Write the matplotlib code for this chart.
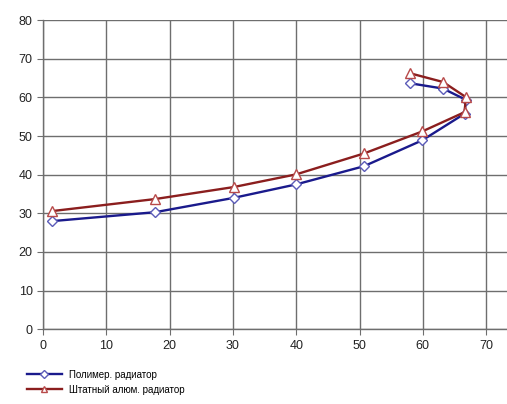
import matplotlib
matplotlib.use('Agg')
import matplotlib.pyplot as pyplot

# series
polymer_x = [1.5, 17.7, 30.1, 40.0, 50.7, 59.9, 66.6, 66.8, 63.2, 57.9]
polymer_y = [28.0, 30.3, 34.0, 37.5, 42.2, 48.9, 55.8, 59.4, 62.3, 63.7]
stock_x = [1.5, 17.7, 30.1, 40.0, 50.7, 59.9, 66.6, 66.8, 63.2, 57.9]
stock_y = [30.6, 33.7, 36.8, 40.1, 45.5, 51.2, 56.2, 60.1, 64.0, 66.3]

labels = ['Полимер. радиатор', 'Штатный алюм. радиатор']
x_ticks = [0, 10, 20, 30, 40, 50, 60, 70]
y_ticks = [0, 10, 20, 30, 40, 50, 60, 70, 80]

pyplot.rcParams['font.family'] = ['Liberation Sans', 'DejaVu Sans']

fig = pyplot.figure(figsize=(5.07, 4.04), dpi=100)
ax = fig.add_axes([0.0848, 0.185, 0.9152, 0.765])

ax.plot(polymer_x, polymer_y, '-', color='#1a1a8c', lw=1.7, marker='D',
        markersize=5, markerfacecolor='white', markeredgecolor='#5b5bb8',
        markeredgewidth=1.0, label=labels[0], zorder=3)
ax.plot(stock_x, stock_y, '-', color='#8b1e1e', lw=1.7, marker='^',
        markersize=6.5, markerfacecolor='white', markeredgecolor='#b84a4a',
        markeredgewidth=1.0, label=labels[1], zorder=4)

ax.set_xlim(0, 73.3)
ax.set_ylim(0, 80)
ax.set_xticks(x_ticks)
ax.set_yticks(y_ticks)
ax.grid(True, color='#6e6e6e', lw=1.0)
ax.set_axisbelow(True)
for side in ['top', 'right']:
    ax.spines[side].set_visible(False)
for side in ['left', 'bottom']:
    ax.spines[side].set_color('#6e6e6e')
    ax.spines[side].set_linewidth(1.0)
ax.tick_params(direction='out', length=4, color='#6e6e6e', labelsize=9,
               labelcolor='#222222')

fig.legend(loc='upper left', bbox_to_anchor=(0.045, 0.095), frameon=False,
           fontsize=7, handlelength=3.6, handletextpad=0.8, markerscale=0.75,
           labelspacing=0.55, borderaxespad=0)

fig.savefig('out.png', dpi=100)
